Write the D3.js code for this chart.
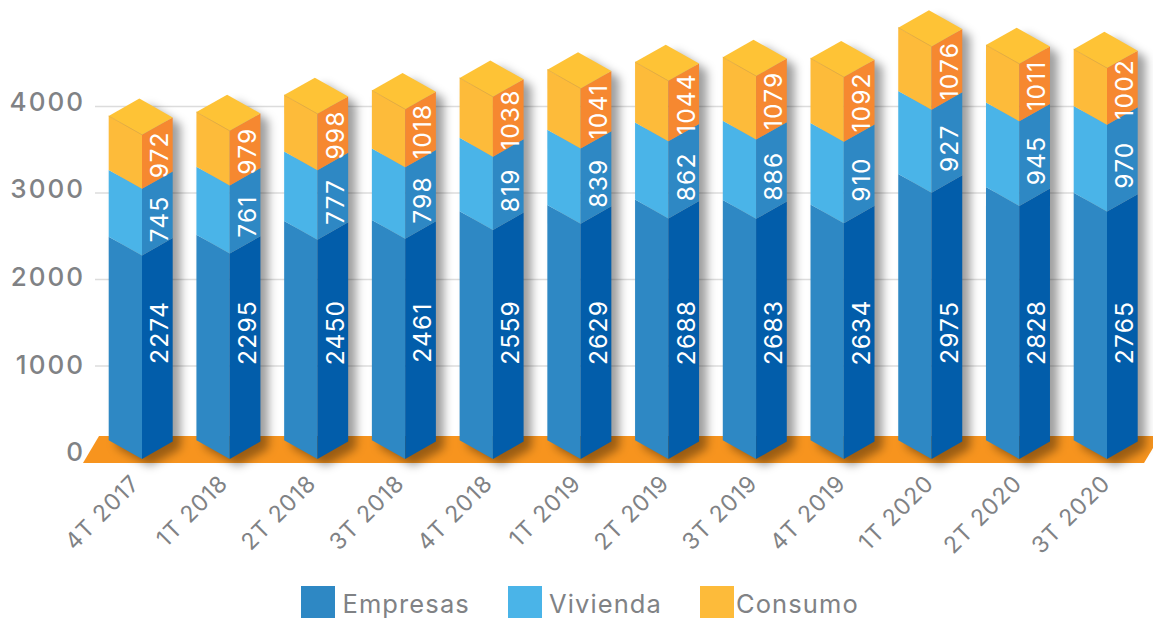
<!DOCTYPE html>
<html lang="es">
<head>
<meta charset="utf-8">
<title>Crédito por segmento</title>
<script src="https://cdn.jsdelivr.net/npm/d3@7/dist/d3.min.js"></script>
<style>
  html, body { margin: 0; padding: 0; background: #fff; }
  svg { display: block; }
  text { font-family: Inter, "Open Sans", sans-serif; }
</style>
</head>
<body>
<svg id="chart" width="1153" height="619"></svg>
<script>
// Quarterly balances per segment
const periods = ["4T 2017","1T 2018","2T 2018","3T 2018","4T 2018","1T 2019","2T 2019","3T 2019","4T 2019","1T 2020","2T 2020","3T 2020"];
const empresas = [2274,2295,2450,2461,2559,2629,2688,2683,2634,2975,2828,2765];
const vivienda = [745,761,777,798,819,839,862,886,910,927,945,970];
const consumo = [972,979,998,1018,1038,1041,1044,1079,1092,1076,1011,1002];
const seriesNames = ["Empresas","Vivienda","Consumo"];
const yTicks = [0,1000,2000,3000,4000];

const svg = d3.select("#chart");
const GREY = "#808285";

const palette = {
  Empresas: { left: "#2E88C4", right: "#025DAA" },
  Vivienda: { left: "#4AB4E8", right: "#2E88C4" },
  Consumo:  { left: "#FDBB3A", right: "#F68830" }
};
const topColor = "#FEC336";

// Isometric column: the front edge sits faceA from the left and faceB from the right edge
const faceA = 33.3, faceB = 30.7, riseL = 18.8, riseR = 17.4;
const baseY = 459;
const capInset = 33;      // the lid of the column is drawn inside the top segment

const x = d3.scalePoint().domain(periods).range([108.7, 1073.7]);
const xLabel = d3.scalePoint().domain(periods).range([135.5, 1106]);
const barHeight = d3.scaleLinear().domain([0, 1000]).range([0, 89.5]);
const gridY = d3.scaleLinear().domain([0, 4000]).range([452, 106]);
const labelY = d3.scaleLinear().domain([0, 4000]).range([452.5, 102]);

const rows = periods.map((p, i) => ({ period: p, Empresas: empresas[i], Vivienda: vivienda[i], Consumo: consumo[i] }));
const stacked = d3.stack().keys(seriesNames)(rows);

const defs = svg.append("defs");
defs.append("filter").attr("id", "soft")
  .attr("x", "-60%").attr("y", "-10%").attr("width", "220%").attr("height", "120%")
  .append("feGaussianBlur").attr("stdDeviation", 4.6);

// Horizontal guides
const grid = d3.axisLeft(gridY).tickValues(yTicks.filter(d => d > 0)).tickSize(-1035).tickFormat("");
svg.append("g").attr("transform", "translate(95,0)").call(grid)
  .call(g => g.select(".domain").remove())
  .selectAll("line").attr("stroke", "#dcdcdc").attr("stroke-width", 1.4);

// Value axis labels
const yAxis = d3.axisLeft(labelY).tickValues(yTicks).tickSize(0).tickPadding(0).tickFormat(d3.format("d"));
svg.append("g").attr("transform", "translate(85,0)").call(yAxis)
  .call(g => g.select(".domain").remove())
  .selectAll("text")
  .attr("fill", GREY).attr("font-size", 26).attr("font-weight", 500)
  .attr("letter-spacing", 2).style("font-family", "Inter, sans-serif");

// Floor
svg.append("path")
  .attr("d", d3.line()([[83,463],[99,436],[1153,436],[1153,448],[1144,463]]) + "Z")
  .attr("fill", "#F7941E");

const polygon = pts => d3.line()(pts) + "Z";

const columns = svg.selectAll("g.column").data(rows).join("g").attr("class", "column");

columns.each(function (row, i) {
  const g = d3.select(this);
  const xL = x(row.period), xM = xL + faceA, xR = xM + faceB;
  const yOf = v => baseY - barHeight(v);
  const topFront = yOf(stacked[2][i][1]) + capInset;

  // Soft shadow thrown to the right and onto the floor
  g.append("path")
    .attr("d", polygon([
      [xL, topFront - riseL], [xM, topFront - riseL - riseR], [xR, topFront - riseR],
      [xR, baseY - riseR], [xM, baseY], [xL, baseY - riseL]
    ]))
    .attr("transform", "translate(8,7)")
    .attr("fill", "#000").attr("fill-opacity", 0.38)
    .attr("filter", "url(#soft)");

  stacked.forEach((layer, s) => {
    const name = seriesNames[s];
    const y0 = yOf(layer[i][0]);
    const y1 = s === 2 ? topFront : yOf(layer[i][1]);
    g.append("path")
      .attr("d", polygon([[xL, y1 - riseL], [xM, y1], [xM, y0], [xL, y0 - riseL]]))
      .attr("fill", palette[name].left);
    g.append("path")
      .attr("d", polygon([[xM, y1], [xR, y1 - riseR], [xR, y0 - riseR], [xM, y0]]))
      .attr("fill", palette[name].right);
  });

  // Lid, with a faint crease where it meets the left face
  g.append("path")
    .attr("d", polygon([
      [xL, topFront - riseL], [xM, topFront], [xR, topFront - riseR],
      [xL + xR - xM, topFront - riseL - riseR]
    ]))
    .attr("fill", topColor);
  g.append("path")
    .attr("d", d3.line()([[xL, topFront - riseL], [xM, topFront]]))
    .attr("fill", "none").attr("stroke", "#E3A93C").attr("stroke-width", 0.8);

  // Values written up the right face
  const lx = xL + 50.5;
  const mids = [
    332.5,
    (yOf(stacked[1][i][0]) + yOf(stacked[1][i][1])) / 2 - 3,
    (topFront + yOf(stacked[2][i][0])) / 2 - 7
  ];
  seriesNames.forEach((name, s) => {
    g.append("text")
      .attr("transform", `translate(${lx},${mids[s]}) rotate(-90)`)
      .attr("text-anchor", "middle").attr("dominant-baseline", "central")
      .attr("fill", "#fff").attr("font-size", 24.5).attr("font-weight", 400)
      .attr("letter-spacing", 1.2)
      .text(row[name]);
  });

  // Period label
  svg.append("text")
    .attr("transform", `translate(${xLabel(row.period)},479) rotate(-45)`)
    .attr("text-anchor", "end").attr("dominant-baseline", "central")
    .attr("fill", GREY).attr("font-size", 23).attr("font-weight", 400)
    .attr("letter-spacing", 1)
    .text(row.period);
});

// Legend
const legendSwatch = d3.scaleOrdinal().domain(seriesNames).range([301, 508, 700]);
const legendText = d3.scaleOrdinal().domain(seriesNames).range([342.5, 549, 736]);
const legendColor = d3.scaleOrdinal().domain(seriesNames).range(["#2E88C4", "#4AB4E8", "#FDBB3A"]);
const legend = svg.append("g").selectAll("g").data(seriesNames).join("g");
legend.append("rect")
  .attr("x", d => legendSwatch(d)).attr("y", 586)
  .attr("width", 34).attr("height", 32).attr("fill", d => legendColor(d));
legend.append("text")
  .attr("x", d => legendText(d)).attr("y", 613)
  .attr("fill", GREY).attr("font-size", 25.5).attr("font-weight", 400)
  .attr("letter-spacing", 1.1)
  .text(d => d);
</script>
</body>
</html>
